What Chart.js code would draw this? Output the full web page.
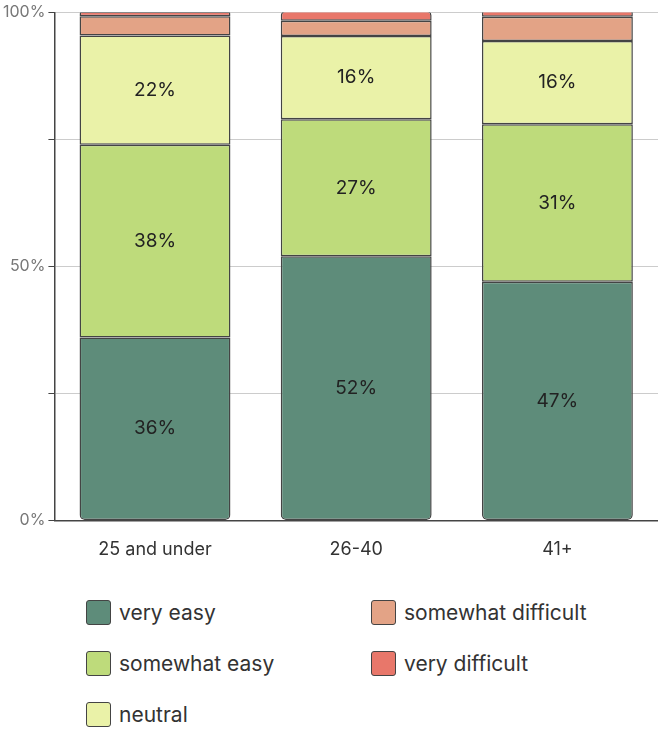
<!DOCTYPE html>
<html><head><meta charset="utf-8">
<script src="https://cdn.jsdelivr.net/npm/chart.js@4"></script>
<style>
body{margin:0;background:#fff;font-family:Inter,sans-serif;}
#wrap{position:absolute;left:0;top:0;width:658px;height:570px;}
#legend{position:absolute;left:86px;top:600px;width:560px;font-size:21px;color:#333;}
.it{position:absolute;display:flex;align-items:center;}
.sw{width:25px;height:25px;border:1.5px solid #444;border-radius:3px;margin-right:8px;box-sizing:border-box;}
</style></head><body>
<div id="wrap"><canvas id="c" width="658" height="570"></canvas></div>
<div id="legend"></div>
<script>
const categories=["25 and under","26-40","41+"];
const seriesNames=["very easy","somewhat easy","neutral","somewhat difficult","very difficult"];
const colors=["#5e8c7a","#bedb7b","#eaf2a8","#e3a386","#e8776a"];
const veryEasy=[36,52,47];
const somewhatEasy=[38,27,31];
const neutral=[21.5,16.4,16.4];
const somewhatDifficult=[3.8,3,4.8];
const veryDifficult=[0.9,2,1.5];
const yTicks=[0,50,100];
const vals=[veryEasy,somewhatEasy,neutral,somewhatDifficult,veryDifficult];
const leg=document.getElementById('legend');
const pos=[[0,0],[0,51],[0,102],[285,0],[285,51]];
seriesNames.forEach((n,i)=>{const d=document.createElement('div');d.className='it';d.style.left=pos[i][0]+'px';d.style.top=pos[i][1]+'px';d.innerHTML='<div class="sw" style="background:'+colors[i]+'"></div>'+n;leg.appendChild(d);});
const labelPlugin={id:'lbl',afterDatasetsDraw(ch){const ctx=ch.ctx;ctx.save();ctx.font='19px Inter';ctx.fillStyle='#222';ctx.textAlign='center';ctx.textBaseline='middle';
ch.data.datasets.forEach((ds,i)=>{ch.getDatasetMeta(i).data.forEach((b,j)=>{const v=ds.data[j];if(v>=10){ctx.fillText(Math.round(v)+'%',b.x,(b.y+b.base)/2);}});});ctx.restore();}};
new Chart(document.getElementById('c'),{type:'bar',
data:{labels:categories,datasets:seriesNames.map((n,i)=>({label:n,data:vals[i],backgroundColor:colors[i],borderColor:'#444',borderWidth:1.5,borderSkipped:false,
borderRadius:i==4?{topLeft:5,topRight:5}:(i==0?{bottomLeft:5,bottomRight:5}:0),barPercentage:0.75,categoryPercentage:1}))},
options:{responsive:false,animation:false,layout:{padding:{top:9,right:0}},
plugins:{legend:{display:false},tooltip:{enabled:false}},
scales:{x:{stacked:true,grid:{display:false},border:{color:'#444',width:1.5},ticks:{color:'#333',font:{family:'Inter',size:18},padding:10}},
y:{stacked:true,min:0,max:100,border:{display:true,color:'#444',width:1.5},grid:{color:'#ccc',borderDash:[4,4],drawTicks:true,tickLength:6,tickColor:'#444'},
ticks:{stepSize:25,color:'#777',font:{family:'Inter',size:16},callback:v=>yTicks.includes(v)?v+'%':''}}}},
plugins:[labelPlugin]});
</script>
</body></html>
